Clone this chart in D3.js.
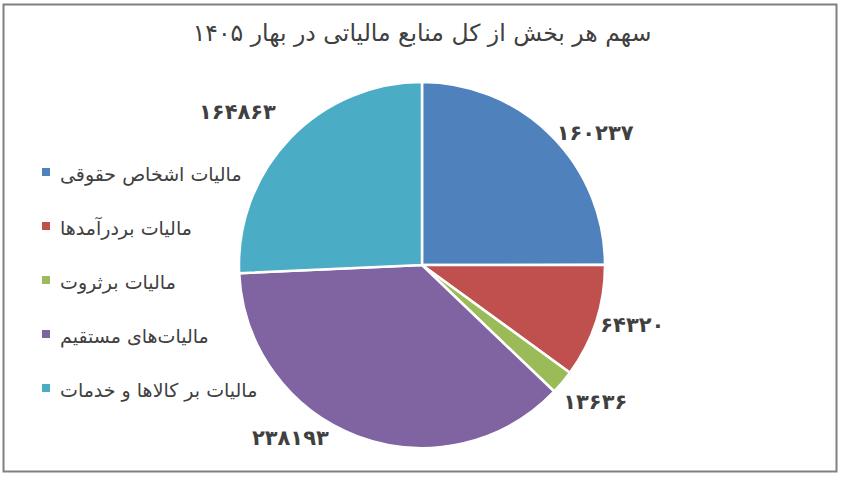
<!DOCTYPE html>
<html><head><meta charset="utf-8">
<script src="https://cdn.jsdelivr.net/npm/d3@7"></script>
<style>html,body{margin:0;padding:0;background:#fff;}svg{display:block;}</style>
</head><body>
<script>
const title = "سهم هر بخش از کل منابع مالیاتی در بهار ۱۴۰۵";
const categories = ["مالیات اشخاص حقوقی","مالیات بردرآمدها","مالیات برثروت","مالیات‌های مستقیم","مالیات بر کالاها و خدمات"];
const values = [160237, 64320, 13636, 238193, 164863];
const colors = ["#4F81BD","#C0504D","#9BBB59","#8064A2","#4BACC6"];
// label nudges (pixels) from default outside position
const labelNudge = [[19,22],[3,-7],[6,-3],[-55,-31],[-27,-2]];

const W = 842, H = 481;
const fa = n => String(n).replace(/\d/g, d => "۰۱۲۳۴۵۶۷۸۹"[d]);

const svg = d3.select("body").append("svg").attr("width", W).attr("height", H);
svg.append("rect").attr("x",3.5).attr("y",4.5).attr("width",833).attr("height",467)
  .attr("fill","#fff").attr("stroke","#808080").attr("stroke-width",2);

svg.append("text").attr("x",422).attr("y",41).attr("text-anchor","middle")
  .attr("font-family","DejaVu Sans").attr("font-size",23.5).attr("fill","#404040")
  .text(title);

const cx = 422, cy = 265, r = 183;
const pie = d3.pie().sort(null).value(d => d.v);
const data = pie(values.map((v,i)=>({v, i})));
const arc = d3.arc().innerRadius(0).outerRadius(r);
const g = svg.append("g").attr("transform",`translate(${cx},${cy})`);
g.selectAll("path").data(data).join("path")
  .attr("d", arc).attr("fill", d => colors[d.data.i])
  .attr("stroke","#fff").attr("stroke-width",2.5).attr("stroke-linejoin","round");

const lr = 218;
g.selectAll("text.lbl").data(data).join("text").attr("class","lbl")
  .attr("x", d => { const a=(d.startAngle+d.endAngle)/2; return Math.sin(a)*lr + labelNudge[d.data.i][0]; })
  .attr("y", d => { const a=(d.startAngle+d.endAngle)/2; return -Math.cos(a)*lr + labelNudge[d.data.i][1]; })
  .attr("text-anchor","middle").attr("dominant-baseline","central")
  .attr("font-family","DejaVu Sans").attr("font-weight","bold").attr("font-size",21).attr("fill","#404040")
  .text(d => fa(d.data.v));

const leg = svg.append("g");
const rowY = d3.scalePoint().domain(d3.range(categories.length)).range([174, 390]);
categories.forEach((c,i)=>{
  leg.append("rect").attr("x",42).attr("y",rowY(i)-6).attr("width",8).attr("height",8).attr("fill",colors[i]);
  leg.append("text").attr("x",60).attr("y",rowY(i)).attr("dominant-baseline","central")
    .attr("font-family","DejaVu Sans").attr("font-size",19).attr("fill","#404040").text(c);
});
</script>
</body></html>
